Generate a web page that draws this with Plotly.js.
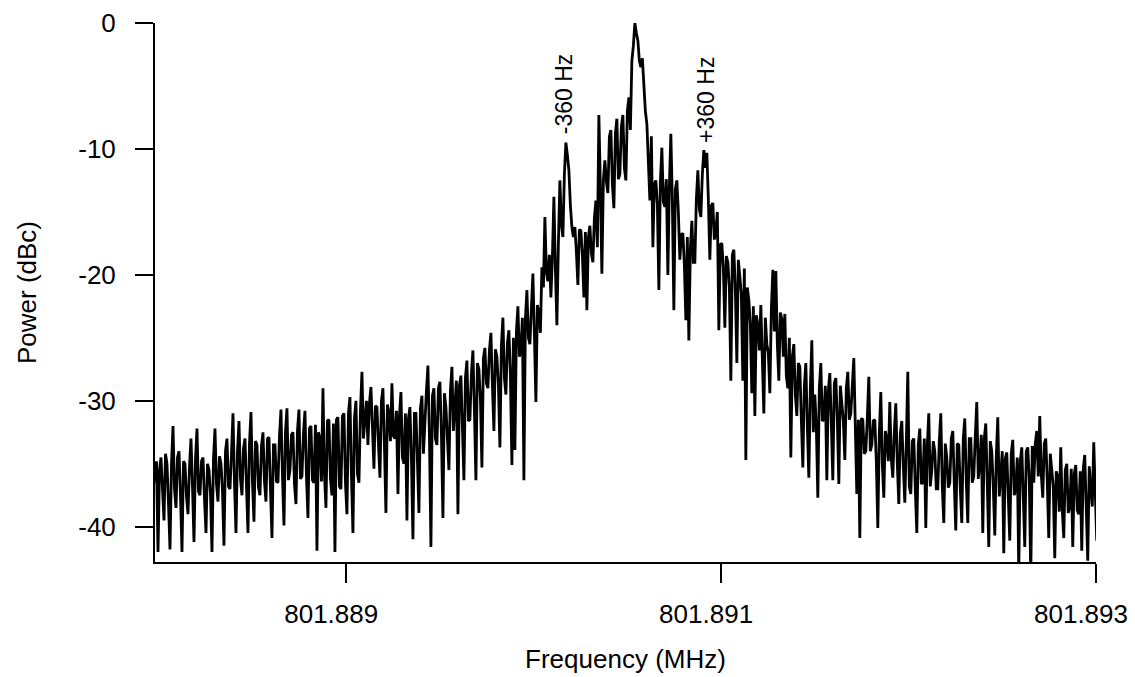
<!DOCTYPE html>
<html>
<head>
<meta charset="utf-8">
<script src="https://cdn.plot.ly/plotly-3.0.1.min.js"></script>
<style>
  html, body { margin: 0; padding: 0; background: #ffffff; }
  #chart { width: 1135px; height: 677px; }
</style>
</head>
<body>
<div id="chart"></div>
<script>
// Spectrum analyser sweep: first bin and bin spacing (MHz)
const freqStart = 801.88798;
const binSpacing = 0.000008;

const powerDbc = [
  -36.5, -34.8, -42.0, -35.5, -34.5, -37.8, -39.5, -34.2, -35.0, -38.2, -41.8, -35.0, -32.0, -37.0, -38.5, -34.5, -34.0, -37.5, -42.0, -34.8,
  -35.0, -37.6, -39.0, -35.2, -33.0, -36.8, -41.2, -34.6, -32.2, -37.2, -37.5, -34.8, -34.5, -37.8, -40.5, -35.0, -35.5, -37.4, -42.0, -34.6,
  -32.2, -36.6, -38.0, -34.4, -35.0, -37.2, -41.5, -34.0, -33.0, -36.8, -37.0, -34.2, -31.0, -36.5, -40.5, -34.0, -31.6, -36.2, -37.5, -33.8,
  -33.0, -36.8, -40.5, -33.4, -30.9, -36.5, -39.6, -33.2, -33.5, -36.9, -37.5, -33.6, -32.5, -36.4, -38.0, -33.0, -32.9, -37.0, -40.9, -33.5,
  -33.5, -36.4, -36.5, -32.8, -30.7, -36.0, -39.9, -32.5, -30.6, -36.3, -35.5, -32.7, -32.5, -36.6, -38.2, -32.4, -30.7, -36.2, -36.0, -32.6,
  -30.8, -36.0, -39.3, -32.2, -32.0, -36.3, -36.5, -31.9, -41.9, -32.5, -33.0, -36.4, -29.0, -35.8, -38.5, -31.6, -31.5, -36.2, -37.5, -31.8,
  -42.0, -31.5, -31.3, -36.8, -37.0, -31.2, -31.0, -36.5, -39.0, -31.0, -29.7, -36.0, -40.5, -31.4, -30.0, -35.8, -36.5, -30.8, -27.7, -33.0,
  -31.5, -30.0, -33.5, -30.2, -28.9, -33.0, -35.4, -30.4, -30.5, -33.4, -36.1, -30.0, -29.0, -33.6, -38.9, -30.3, -31.0, -33.2, -28.6, -32.8,
  -33.0, -30.8, -37.4, -31.2, -29.3, -34.5, -35.0, -31.0, -39.5, -31.4, -30.5, -34.6, -41.0, -31.0, -31.0, -34.8, -38.9, -30.6, -29.6, -34.2,
  -31.0, -29.2, -27.2, -32.8, -41.6, -29.6, -29.0, -33.0, -33.5, -29.0, -28.5, -32.6, -39.3, -29.4, -30.5, -33.2, -35.5, -29.2, -27.3, -32.4,
  -30.0, -28.4, -39.0, -28.8, -28.0, -32.2, -36.3, -28.2, -26.8, -31.6, -31.5, -27.8, -26.0, -30.8, -36.3, -27.0, -27.5, -29.8, -35.3, -26.6,
  -25.8, -28.6, -29.0, -26.0, -24.6, -28.8, -32.4, -25.9, -26.5, -28.7, -33.7, -25.6, -23.4, -28.2, -29.5, -25.4, -24.4, -28.0, -35.1, -25.0,
  -33.9, -24.5, -22.5, -26.5, -26.0, -23.4, -36.3, -23.5, -21.2, -25.0, -25.5, -22.6, -19.9, -24.8, -30.1, -22.4, -23.0, -24.6, -19.4, -21.0,
  -15.4, -19.8, -20.5, -18.4, -21.8, -18.6, -13.8, -19.5, -24.0, -17.5, -12.5, -16.0, -17.0, -12.0, -9.5, -10.5, -11.7, -14.5, -16.2, -17.0,
  -16.2, -18.2, -20.8, -16.4, -16.5, -18.4, -21.8, -16.6, -22.8, -17.0, -16.1, -18.3, -19.0, -15.5, -14.1, -17.8, -7.3, -13.0, -19.9, -12.5,
  -10.9, -12.6, -13.5, -9.0, -8.5, -12.8, -14.7, -8.8, -7.6, -12.4, -12.0, -8.2, -7.3, -11.5, -12.5, -7.0, -5.9, -8.5, -3.0, -1.8,
  0.0, -0.8, -1.4, -3.0, -3.5, -2.8, -5.5, -7.0, -8.0, -10.5, -14.1, -9.0, -17.8, -12.8, -12.5, -14.4, -21.2, -12.6, -9.9, -14.2,
  -14.6, -12.4, -20.0, -13.0, -8.8, -14.2, -22.8, -13.2, -12.5, -15.0, -18.8, -16.8, -16.7, -19.2, -23.6, -17.0, -25.2, -18.0, -15.7, -19.0,
  -19.0, -14.0, -11.7, -14.8, -15.4, -12.0, -10.1, -11.5, -10.3, -14.0, -18.8, -14.5, -14.3, -17.2, -16.5, -15.0, -24.4, -17.6, -17.5, -19.5,
  -24.2, -18.5, -19.0, -21.0, -28.4, -18.4, -18.0, -21.2, -27.0, -18.8, -20.2, -21.5, -28.4, -19.5, -34.7, -21.0, -22.0, -24.0, -29.4, -22.5,
  -31.2, -23.2, -24.0, -26.0, -22.4, -26.4, -31.0, -23.4, -25.5, -26.2, -29.4, -22.8, -19.6, -24.5, -19.7, -25.5, -28.4, -23.0, -23.5, -26.5,
  -23.1, -28.0, -29.0, -25.0, -34.5, -26.5, -25.5, -29.5, -31.2, -27.0, -27.3, -31.5, -35.3, -28.8, -27.0, -32.0, -36.1, -29.0, -25.2, -32.5,
  -29.5, -32.0, -37.7, -29.0, -27.0, -31.6, -31.5, -28.8, -36.3, -29.2, -27.8, -31.8, -36.3, -28.6, -28.2, -31.5, -36.6, -28.8, -30.5, -31.6,
  -34.7, -29.0, -27.7, -31.5, -31.0, -28.8, -26.6, -32.0, -37.4, -31.5, -40.9, -31.4, -31.5, -34.2, -34.0, -31.4, -28.1, -34.0, -33.5, -31.6,
  -31.5, -34.8, -40.1, -32.6, -29.3, -35.0, -37.7, -32.4, -33.0, -34.8, -30.1, -34.6, -36.1, -32.5, -30.2, -35.0, -38.2, -32.6, -31.6, -35.2,
  -38.1, -33.4, -27.7, -36.8, -37.4, -33.2, -33.0, -37.0, -40.5, -33.5, -32.2, -36.6, -36.5, -33.0, -40.1, -33.6, -31.0, -36.8, -35.5, -33.2,
  -34.0, -37.0, -37.0, -33.2, -31.0, -36.8, -39.7, -33.4, -34.5, -36.9, -36.5, -33.0, -32.4, -36.6, -40.3, -33.4, -33.5, -37.0, -39.7, -33.0,
  -31.4, -36.4, -39.7, -33.0, -33.0, -36.5, -36.0, -32.8, -30.1, -36.2, -35.0, -32.7, -40.5, -33.0, -31.8, -36.6, -41.6, -33.2, -34.0, -36.8,
  -40.7, -34.4, -31.3, -37.6, -36.0, -34.0, -42.1, -34.6, -34.1, -37.8, -41.1, -34.2, -33.1, -37.5, -37.0, -34.5, -43.5, -34.8, -33.7, -37.6,
  -41.6, -34.0, -33.7, -36.2, -44.0, -33.6, -36.5, -33.4, -32.4, -36.0, -31.2, -35.8, -37.7, -33.4, -33.0, -36.4, -40.9, -34.2, -35.5, -36.8,
  -42.5, -35.6, -36.0, -38.8, -33.7, -38.6, -40.9, -35.5, -35.0, -38.9, -38.5, -35.4, -41.6, -35.8, -35.1, -38.7, -39.0, -35.6, -41.9, -35.4,
  -34.3, -38.0, -42.7, -35.2, -36.5, -38.4, -33.3, -37.6, -41.1, -35.0, -34.3, -38.2, -36.3
];

// Axis ticks
const xTickVals = [801.889, 801.891, 801.893];
const xTickText = ['801.889', '801.891', '801.893'];
const yTickVals = [0, -10, -20, -30, -40];
const yTickText = ['0', '-10', '-20', '-30', '-40'];

// Sideband labels
const sidebandLabels = ['-360 Hz', '+360 Hz'];
const sidebandFreqs = [801.89016, 801.89092];
const sidebandLabelLevels = [-5.6, -6.1];

const freqMHz = powerDbc.map((_, i) => freqStart + i * binSpacing);

const FONT = "'Liberation Sans', Arial, sans-serif";

const trace = {
  type: 'scatter',
  mode: 'lines',
  x: freqMHz,
  y: powerDbc,
  line: { color: '#000000', width: 2.8 },
  hoverinfo: 'skip',
  showlegend: false
};

const layout = {
  width: 1135,
  height: 677,
  margin: { l: 155, r: 39, t: 23, b: 115 },
  paper_bgcolor: '#ffffff',
  plot_bgcolor: '#ffffff',
  font: { family: FONT, color: '#000000', size: 26 },
  showlegend: false,
  xaxis: {
    range: [801.88798, 801.893],
    tickmode: 'array',
    tickvals: xTickVals,
    ticktext: xTickText,
    ticks: 'outside',
    ticklen: 19,
    tickwidth: 2,
    tickcolor: '#000000',
    showline: true,
    linewidth: 2,
    linecolor: '#000000',
    showgrid: false,
    zeroline: false,
    tickfont: { family: FONT, size: 26, color: '#000000' },
    ticklabelshift: -15,
    ticklabelstandoff: 9,
    title: { text: 'Frequency (MHz)', font: { family: FONT, size: 26, color: '#000000' }, standoff: 22 },
    automargin: false
  },
  yaxis: {
    range: [-42.8, 0],
    tickmode: 'array',
    tickvals: yTickVals,
    ticktext: yTickText,
    ticks: 'outside',
    ticklen: 18,
    tickwidth: 2,
    tickcolor: '#000000',
    showline: true,
    linewidth: 2,
    linecolor: '#000000',
    showgrid: false,
    zeroline: false,
    tickfont: { family: FONT, size: 26, color: '#000000' },
    ticklabelstandoff: 14,
    title: { text: 'Power (dBc)', font: { family: FONT, size: 26, color: '#000000' }, standoff: 34 },
    automargin: false
  },
  annotations: sidebandLabels.map((t, k) => ({
    text: t,
    x: sidebandFreqs[k],
    y: sidebandLabelLevels[k],
    xref: 'x',
    yref: 'y',
    showarrow: false,
    textangle: -90,
    font: { family: FONT, size: 23, color: '#000000' },
    xanchor: 'center',
    yanchor: 'middle'
  }))
};

Plotly.newPlot('chart', [trace], layout, { displayModeBar: false, staticPlot: true });
</script>
</body>
</html>
